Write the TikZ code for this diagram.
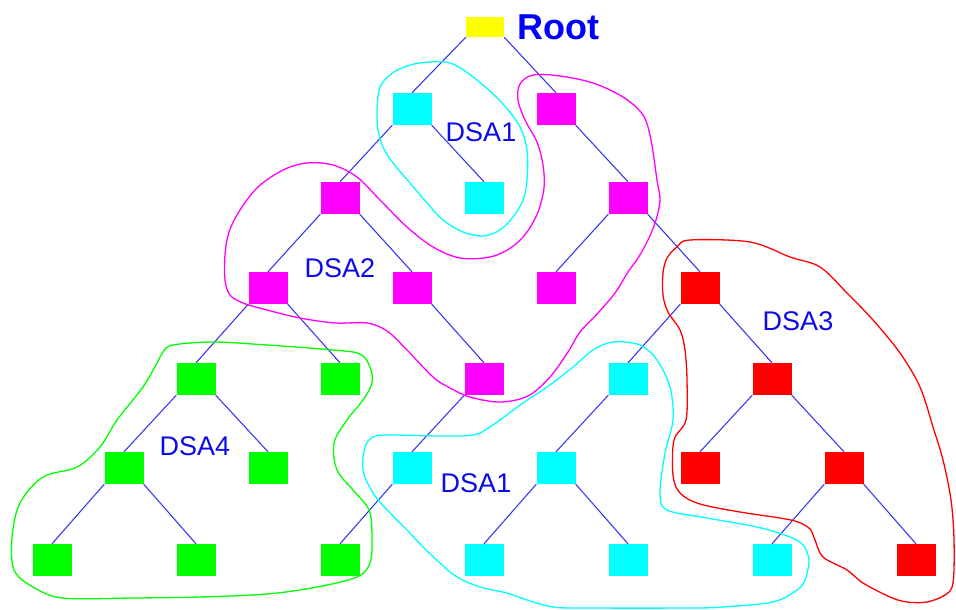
\documentclass[tikz,border=0pt]{standalone}
\usepackage{fontspec}
\setmainfont{Liberation Sans}
\usetikzlibrary{positioning}
\definecolor{BoxYellow}{HTML}{FFFF00}
\definecolor{BoxCyan}{HTML}{00FFFF}
\definecolor{BoxMagenta}{HTML}{FF00FF}
\definecolor{BoxRed}{HTML}{FF0000}
\definecolor{BoxGreen}{HTML}{00FF00}
\definecolor{EdgeBlue}{HTML}{3232F0}
\definecolor{LabelBlue}{HTML}{0A0AEB}

\tikzset{
  box/.style={fill=#1, minimum width=39pt, minimum height=32pt, inner sep=0pt},
  edge/.style={EdgeBlue, line width=1.05pt},
  blob/.style={line width=1.3pt, #1},
  dsa/.style={LabelBlue, inner sep=0pt, font=\fontsize{27}{30}\selectfont},
}

\begin{document}
\begin{tikzpicture}[x=1pt, y=-1pt]
  \useasboundingbox (0,0) rectangle (956,610);
  % Nodes, level by level
  \node[box=BoxYellow, minimum width=38pt, minimum height=20pt] (root) at (485,27) {};
  \node[right=13pt of root, anchor=west, inner sep=0pt, blue,
    font=\bfseries\fontsize{36}{40}\selectfont] (rootlabel) {Root};

  \node[box=BoxCyan] (b5) at (412,109) {};
  \node[box=BoxMagenta] (b7) at (556,109) {};

  \node[box=BoxMagenta] (c4) at (340,198) {};
  \node[box=BoxCyan] (c6) at (484,198) {};
  \node[box=BoxMagenta] (c8) at (628,198) {};

  \node[box=BoxMagenta] (d3) at (268,288) {};
  \node[box=BoxMagenta] (d5) at (412,288) {};
  \node[box=BoxMagenta] (d7) at (556,288) {};
  \node[box=BoxRed] (d9) at (700,288) {};

  \node[box=BoxGreen] (e2) at (196,379) {};
  \node[box=BoxGreen] (e4) at (340,379) {};
  \node[box=BoxMagenta] (e6) at (484,379) {};
  \node[box=BoxCyan] (e8) at (628,379) {};
  \node[box=BoxRed] (e10) at (772,379) {};

  \node[box=BoxGreen] (f1) at (124,468) {};
  \node[box=BoxGreen] (f3) at (268,468) {};
  \node[box=BoxCyan] (f5) at (412,468) {};
  \node[box=BoxCyan] (f7) at (556,468) {};
  \node[box=BoxRed] (f9) at (700,468) {};
  \node[box=BoxRed] (f11) at (844,468) {};

  \node[box=BoxGreen] (g0) at (52,560) {};
  \node[box=BoxGreen] (g2) at (196,560) {};
  \node[box=BoxGreen] (g4) at (340,560) {};
  \node[box=BoxCyan] (g6) at (484,560) {};
  \node[box=BoxCyan] (g8) at (628,560) {};
  \node[box=BoxCyan] (g10) at (772,560) {};
  \node[box=BoxRed] (g12) at (916,560) {};

  % Tree edges: left children, then right children
  \foreach \p/\c in {root/b5, b5/c4, c4/d3, c8/d7, d3/e2, d9/e8, e2/f1,
      e6/f5, e8/f7, e10/f9, f1/g0, f5/g4, f7/g6, f11/g10}
    \draw[edge] (\p.south west) -- (\c.north);
  \foreach \p/\c in {root/b7, b5/c6, b7/c8, c4/d5, c8/d9, d3/e4, d5/e6,
      d9/e10, e2/f3, e10/f11, f1/g2, f7/g8, f11/g12}
    \draw[edge] (\p.south east) -- (\c.north);

  % Labels
  \node[dsa] (dsa1a) at (481,132) {DSA1};
  \node[dsa] (dsa2) at (340,268) {DSA2};
  \node[dsa] (dsa3) at (798,321) {DSA3};
  \node[dsa] (dsa4) at (195,446) {DSA4};
  \node[dsa] (dsa1b) at (476,483) {DSA1};

  % Outlines of the groups
  \draw[blob=BoxCyan] plot[smooth cycle, tension=0.55] coordinates {
    (420,63) (450,63) (477,80) (503,104) (520,127) (527,150) (527,180)
    (523,200) (513,217) (500,230) (483,236) (463,232) (443,220) (427,203)
    (410,183) (393,163) (383,147) (378,130) (377,110) (380,87) (390,75)
    (402,68)};
  \draw[blob=BoxMagenta] plot[smooth cycle, tension=0.55] coordinates {
    (533,75) (560,76) (593,83) (623,97) (643,115) (651,140) (657,180)
    (660,200) (656,220) (648,240) (638,258) (628,272) (615,293) (598,313)
    (580,332) (568,352) (550,377) (528,396) (500,402) (470,397) (450,388)
    (433,377) (407,350) (387,331) (367,323) (335,323) (300,318) (267,310)
    (243,303) (230,295) (225,280) (225,255) (229,232) (240,210) (258,187)
    (283,170) (307,163) (333,165) (357,177) (380,200) (407,227) (433,247)
    (460,258) (490,257) (512,247) (527,232) (538,212) (544,188) (543,165)
    (537,142) (525,120) (518,100) (520,84)};
  \draw[blob=BoxRed] plot[smooth cycle, tension=0.55] coordinates {
    (690,240) (750,242) (790,257) (820,267) (847,293) (873,320) (900,353)
    (920,387) (933,427) (943,460) (951,500) (954,540) (953,583) (945,595)
    (927,602) (907,602) (890,597) (863,583) (847,570) (823,557) (815,540)
    (810,529) (798,522) (780,518) (740,512) (700,504) (680,493) (673,475)
    (674,440) (686,420) (687,380) (685,350) (680,330) (668,312) (663,295)
    (663,273) (667,258) (677,247)};
  \draw[blob=BoxGreen] plot[smooth cycle, tension=0.55] coordinates {
    (173,345) (213,342) (267,345) (333,350) (360,354) (370,367) (372,383)
    (363,400) (347,420) (334,443) (337,470) (353,490) (369,510) (372,537)
    (370,563) (357,577) (317,587) (267,594) (200,597) (133,598) (63,598)
    (33,587) (14,570) (12,537) (20,503) (43,477) (77,467) (100,447)
    (117,420) (143,387) (157,363) (163,352)};
  \draw[blob=BoxCyan] plot[smooth cycle, tension=0.55] coordinates {
    (613,342) (640,345) (657,360) (670,387) (673,420) (665,453) (660,493)
    (667,510) (707,518) (757,527) (790,537) (803,545) (809,560) (805,580)
    (797,590) (773,602) (723,607) (690,608) (587,608) (553,607) (527,600)
    (507,593) (480,587) (457,577) (440,563) (423,547) (407,530) (390,513)
    (373,493) (363,470) (365,447) (373,437) (390,435) (440,436) (473,435)
    (490,427) (523,403) (547,387) (573,367) (593,350)};
\end{tikzpicture}
\end{document}
